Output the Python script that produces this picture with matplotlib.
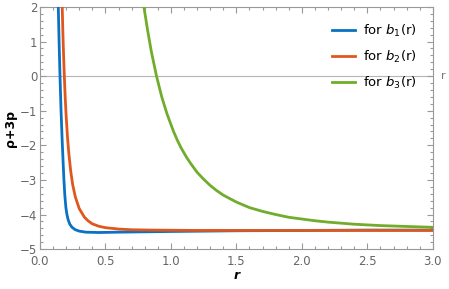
import numpy as np
import matplotlib.pyplot as plt
from matplotlib.ticker import MultipleLocator

# values
r_b1 = [0.14, 0.146, 0.153, 0.161, 0.17, 0.177, 0.183, 0.19, 0.198, 0.206, 0.215,
        0.228, 0.245, 0.27, 0.3, 0.35, 0.45, 0.6, 0.8, 1.0, 1.5, 2.0, 2.5, 3.0]
y_b1 = [2.0, 1.0, 0.0, -1.0, -1.9, -2.5, -3.0, -3.45, -3.8, -4.0, -4.15,
        -4.28, -4.37, -4.44, -4.48, -4.51, -4.52, -4.51, -4.5, -4.49, -4.47, -4.46, -4.45, -4.45]

r_b2 = [0.17, 0.175, 0.18, 0.186, 0.193, 0.2, 0.21, 0.22, 0.235, 0.25, 0.27,
        0.3, 0.34, 0.37, 0.4, 0.45, 0.5, 0.6, 0.7, 0.85, 1.2, 2.0, 3.0]
y_b2 = [1.99, 1.26, 0.64, 0.0, -0.63, -1.15, -1.75, -2.22, -2.75, -3.14, -3.49,
        -3.83, -4.08, -4.19, -4.27, -4.34, -4.38, -4.42, -4.44, -4.45, -4.46, -4.46, -4.46]

r_b3 = [0.794, 0.82, 0.85, 0.89, 0.93, 0.97, 1.02, 1.05, 1.08, 1.12, 1.15, 1.2,
        1.25, 1.3, 1.35, 1.4, 1.5, 1.6, 1.7, 1.8, 1.9, 2.0, 2.1, 2.2, 2.4, 2.6,
        2.8, 3.0]
y_b3 = [2.0, 1.37, 0.72, 0.0, -0.6, -1.09, -1.6, -1.86, -2.09, -2.35, -2.52, -2.78,
        -2.98, -3.16, -3.31, -3.44, -3.64, -3.8, -3.91, -4.0, -4.08, -4.13, -4.18,
        -4.22, -4.28, -4.32, -4.345, -4.37]

labels = ['for $b_1$(r)', 'for $b_2$(r)', 'for $b_3$(r)']
colors = ['#0a72c2', '#e0571d', '#71ac2c']

plt.rcParams['font.family'] = 'DejaVu Sans'
plt.rcParams['mathtext.fontset'] = 'dejavusans'

fig = plt.figure(figsize=(4.49, 2.89), dpi=100)
ax = fig.add_axes([0.089, 0.138, 0.875, 0.838])

ax.axhline(0, color='#b5b5b5', lw=0.8, zorder=1)
for rr, yy, c, lab in zip([r_b1, r_b2, r_b3], [y_b1, y_b2, y_b3], colors, labels):
    ax.plot(rr, yy, color=c, lw=2.0, label=lab, zorder=3)

ax.set_xlim(0, 3)
ax.set_ylim(-5, 2)
ax.xaxis.set_major_locator(MultipleLocator(0.5))
ax.xaxis.set_minor_locator(MultipleLocator(0.1))
ax.yaxis.set_major_locator(MultipleLocator(1))
ax.yaxis.set_minor_locator(MultipleLocator(0.2))
ax.xaxis.set_major_formatter(plt.FuncFormatter(lambda v, p: '%.1f' % v))

ax.tick_params(which='both', direction='in', top=True, right=True,
               color='#999999', labelcolor='#666666', labelsize=8.5, width=0.8)
ax.tick_params(which='major', length=4.5)
ax.tick_params(which='minor', length=2.5)
ax.tick_params(axis='x', which='major', pad=4)
ax.tick_params(axis='y', which='major', pad=2)
for s in ax.spines.values():
    s.set_color('#999999')
    s.set_linewidth(0.8)

ax.set_xlabel('r', fontsize=9, fontweight='bold', style='italic', labelpad=1)
ax.set_ylabel('ρ+3p', fontsize=9, fontweight='bold', labelpad=2)
ax.text(1.02, 0, 'r', transform=ax.get_yaxis_transform(), color='#777777',
        fontsize=8, va='center', ha='left')

ax.legend(loc='upper right', frameon=False, fontsize=9.5, handlelength=1.8,
          handletextpad=0.6, labelspacing=0.75, borderaxespad=0.8)

fig.savefig('out.png', dpi=100)
